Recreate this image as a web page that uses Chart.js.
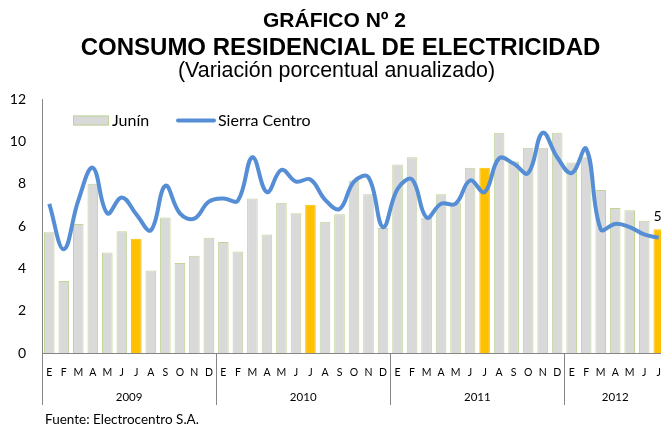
<!DOCTYPE html>
<html>
<head>
<meta charset="utf-8">
<script src="https://cdn.jsdelivr.net/npm/chart.js@4.4.0/dist/chart.umd.min.js"></script>
<style>
  html, body { margin: 0; padding: 0; overflow: hidden; background: #fff; width: 661px; height: 427px; }
  #wrap { position: relative; width: 661px; height: 427px; overflow: hidden; }
  canvas { position: absolute; left: 0; top: 0; }
  .t { position: absolute; width: 661px; text-align: center; color: #000; white-space: nowrap;
       font-family: "Liberation Sans", Arial, sans-serif; }
  .t1 { left: 4px; top: 9px; font-size: 21px; line-height: 21px; font-weight: bold; }
  .t2 { left: 10px; top: 35px; font-size: 24px; line-height: 24px; font-weight: bold; }
  .t3 { left: 6px; top: 60px; font-size: 21.4px; line-height: 21px; }
  .src { position: absolute; left: 45px; top: 411px; font: 13.5px Lato, sans-serif; color: #000; }
</style>
</head>
<body>
<div id="wrap">
  <canvas id="myChart" width="670" height="427"></canvas>
  <div class="t t1">GRÁFICO Nº 2</div>
  <div class="t t2">CONSUMO RESIDENCIAL DE ELECTRICIDAD</div>
  <div class="t t3">(Variación porcentual anualizado)</div>
  <div class="src">Fuente: Electrocentro S.A.</div>
</div>
<script>
// ------- data --------

let months = [
  "E","F","M","A","M","J","J","A","S","O","N","D",
  "E","F","M","A","M","J","J","A","S","O","N","D",
  "E","F","M","A","M","J","J","A","S","O","N","D",
  "E","F","M","A","M","J","J"
];

let years = ["2009", "2010", "2011", "2012"];

// Junín (bars)
let junin = [
  5.7, 3.4, 6.1, 8.0, 4.75, 5.75, 5.4, 3.9, 6.4, 4.25, 4.6, 5.45,
  5.25, 4.8, 7.3, 5.6, 7.1, 6.6, 7.0, 6.2, 6.55, 8.15, 7.5, 5.9,
  8.9, 9.25, 6.4, 7.5, 7.1, 8.75, 8.75, 10.4, 9.05, 9.7, 9.7, 10.4,
  9.0, 9.25, 7.7, 6.85, 6.75, 6.25, 5.85
];

// Sierra Centro (line)
let sierra = [
  7.05, 4.9, 7.2, 8.75, 6.6, 7.35, 6.55, 5.8, 7.9, 6.6, 6.35, 7.15,
  7.3, 7.2, 9.25, 7.6, 8.65, 8.1, 8.2, 7.25, 6.8, 8.1, 8.3, 5.95,
  7.75, 8.2, 6.4, 7.05, 7.05, 8.15, 7.6, 9.2, 8.95, 8.5, 10.4, 9.25,
  8.5, 9.65, 5.85, 6.1, 5.95, 5.6, 5.45
];

// ------- colours --------

let grayFill = "#d9d9d9";
let greenEdge = "#c0d596";
let yellow = "#ffc000";
let blue = "#558ed5";
let axisGray = "#868686";

let barFill = months.map((m, i) => (i % 12 === 6 ? yellow : grayFill));
let barEdge = months.map((m, i) => (i % 12 === 6 ? yellow : greenEdge));

Chart.defaults.font.family = "Lato, sans-serif";
Chart.defaults.color = "#000";

// ------- plugins --------

// year row under the month labels + separators
let yearAxis = {
  id: "yearAxis",
  afterDraw(chart) {
    let c = chart.ctx;
    let xs = chart.scales.x;
    let area = chart.chartArea;
    let step = xs.width / months.length;
    c.save();
    c.strokeStyle = axisGray;
    c.lineWidth = 1;
    c.fillStyle = "#000";
    c.font = "11.5px Lato";
    c.textAlign = "center";
    c.textBaseline = "middle";
    years.forEach((yr, k) => {
      let first = k * 12;
      let last = Math.min(first + 11, months.length - 1);
      let x0 = xs.getPixelForValue(first) - step / 2;
      let x1 = xs.getPixelForValue(last) + step / 2;
      let lx = Math.round(x0) + 0.5;
      c.beginPath();
      c.moveTo(lx, area.bottom);
      c.lineTo(lx, area.bottom + 52);
      c.stroke();
      c.fillText(yr, (x0 + x1) / 2, area.bottom + 44);
    });
    c.restore();
  }
};

// legend inside the plot, top left
let legendBox = {
  id: "legendBox",
  afterDraw(chart) {
    let c = chart.ctx;
    let area = chart.chartArea;
    let bars = chart.data.datasets[1];
    let line = chart.data.datasets[0];
    let cy = area.top + 21.5;
    let x = area.left + 31;
    c.save();
    c.fillStyle = grayFill;
    c.fillRect(x, cy - 5, 36, 10);
    c.strokeStyle = greenEdge;
    c.lineWidth = 1;
    c.strokeRect(x + 0.5, cy - 5 + 0.5, 35, 9);
    c.fillStyle = "#000";
    c.font = "16px Lato";
    c.textBaseline = "middle";
    c.fillText(bars.label, x + 39, cy);
    c.strokeStyle = line.borderColor;
    c.lineWidth = 4;
    c.lineCap = "round";
    c.beginPath();
    c.moveTo(area.left + 136, cy);
    c.lineTo(area.left + 172, cy);
    c.stroke();
    c.fillText(line.label, area.left + 176, cy);
    c.restore();
  }
};

// value label over the last bar
let lastLabel = {
  id: "lastLabel",
  afterDatasetsDraw(chart) {
    let meta = chart.getDatasetMeta(1);
    let n = junin.length - 1;
    let el = meta.data[n];
    let c = chart.ctx;
    c.save();
    c.fillStyle = "#000";
    c.font = "14px Lato";
    c.textAlign = "left";
    c.textBaseline = "alphabetic";
    c.fillText(junin[n].toFixed(1), el.x - el.width / 2, el.y - 8);
    c.restore();
  }
};

// ------- chart --------

new Chart(document.getElementById("myChart"), {
  type: "bar",
  data: {
    labels: months,
    datasets: [
      {
        type: "line",
        label: "Sierra Centro",
        data: sierra,
        borderColor: blue,
        borderWidth: 4,
        tension: 0.4,
        pointRadius: 0,
        fill: false,
        order: 1
      },
      {
        label: "Junín",
        data: junin,
        backgroundColor: barFill,
        borderColor: barEdge,
        borderWidth: 1,
        barPercentage: 0.73,
        categoryPercentage: 1,
        order: 2
      }
    ]
  },
  options: {
    responsive: false,
    animation: false,
    devicePixelRatio: 1,
    layout: { padding: { top: 99, right: 4, left: 0, bottom: 0 } },
    plugins: {
      legend: { display: false },
      tooltip: { enabled: false }
    },
    scales: {
      x: {
        grid: { display: false, drawTicks: false },
        border: { color: axisGray },
        ticks: { autoSkip: false, maxRotation: 0, padding: 13, font: { size: 10.5 } },
        afterFit: (s) => {
          s.height = 74;
          s.paddingLeft = 0;
          s.paddingRight = 0;
        }
      },
      y: {
        min: 0,
        max: 12,
        grid: { display: false, drawTicks: false },
        border: { color: axisGray },
        ticks: { stepSize: 2, padding: 16, font: { size: 14 } },
        afterFit: (s) => { s.width = 42; }
      }
    }
  },
  plugins: [yearAxis, legendBox, lastLabel]
});
</script>
</body>
</html>
